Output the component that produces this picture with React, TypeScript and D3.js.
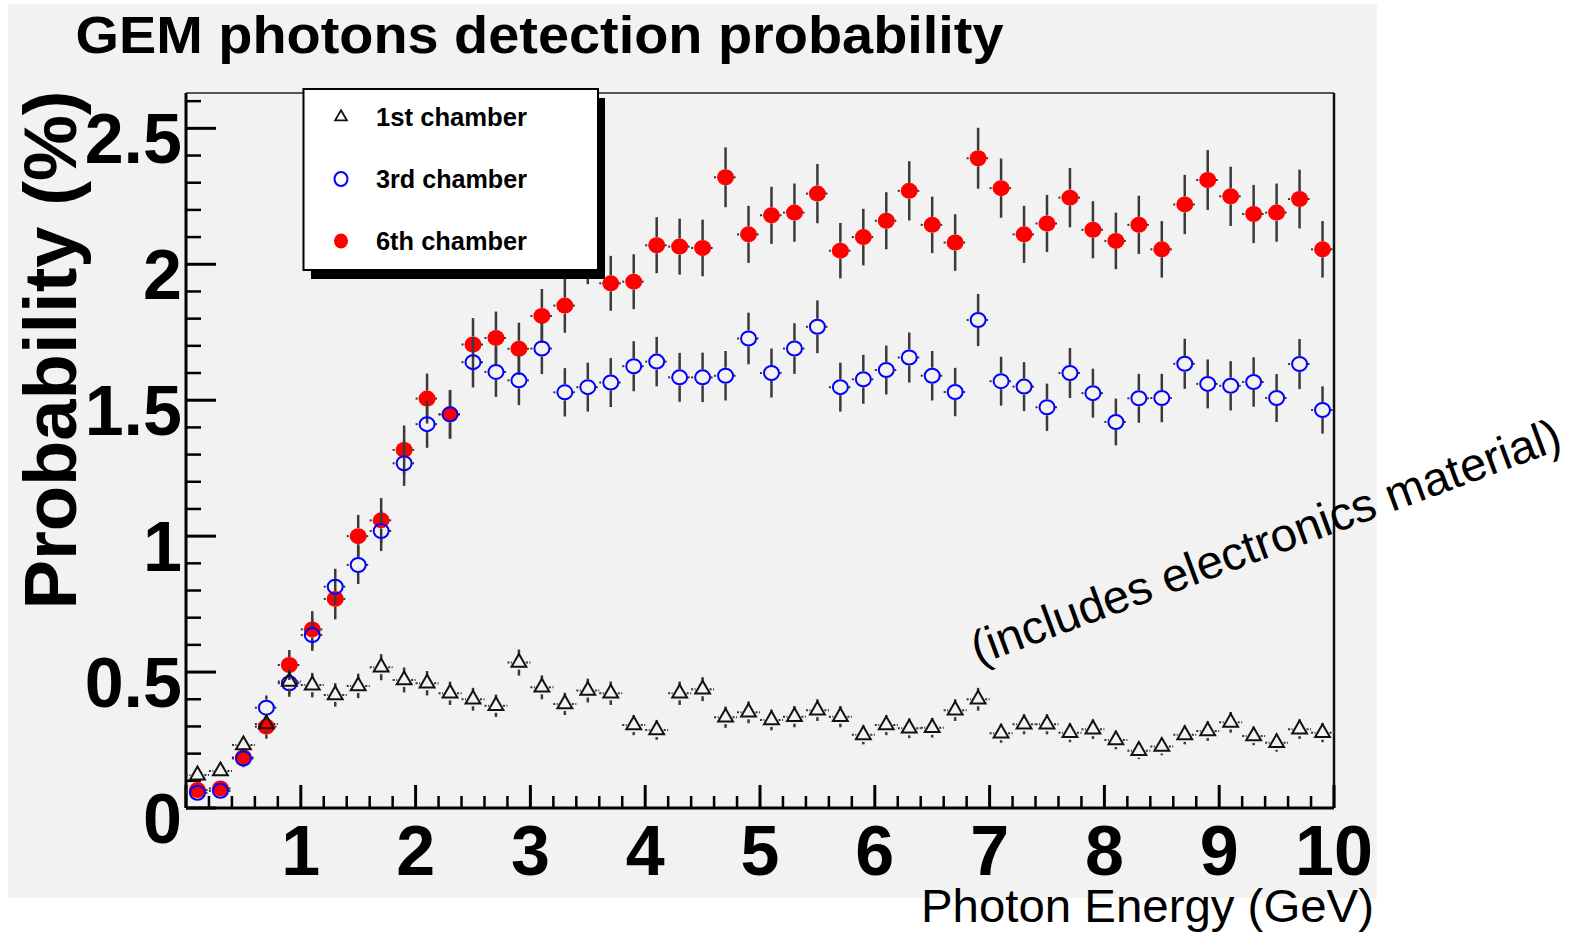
import React from "react";
import * as d3 from "d3";

// bin centres (GeV)
const energy = [
  0.1, 0.3, 0.5, 0.7, 0.9, 1.1, 1.3, 1.5, 1.7, 1.9,
  2.1, 2.3, 2.5, 2.7, 2.9, 3.1, 3.3, 3.5, 3.7, 3.9,
  4.1, 4.3, 4.5, 4.7, 4.9, 5.1, 5.3, 5.5, 5.7, 5.9,
  6.1, 6.3, 6.5, 6.7, 6.9, 7.1, 7.3, 7.5, 7.7, 7.9,
  8.1, 8.3, 8.5, 8.7, 8.9, 9.1, 9.3, 9.5, 9.7, 9.9,
];
const binHalfWidth = 0.1;

// 1st chamber (open triangles)
const chamber1 = [
  0.121, 0.136, 0.232, 0.309, 0.465, 0.452, 0.416, 0.449, 0.518, 0.471,
  0.459, 0.422, 0.4, 0.376, 0.535, 0.444, 0.383, 0.432, 0.422, 0.305,
  0.287, 0.422, 0.437, 0.334, 0.352, 0.324, 0.336, 0.36, 0.336, 0.269,
  0.305, 0.293, 0.295, 0.36, 0.4, 0.275, 0.308, 0.308, 0.277, 0.29,
  0.25, 0.211, 0.226, 0.269, 0.283, 0.315, 0.265, 0.24, 0.29, 0.277,
];
const chamber1Err = [
  0.02, 0.022, 0.03, 0.035, 0.045, 0.045, 0.043, 0.045, 0.048, 0.046,
  0.045, 0.043, 0.042, 0.041, 0.048, 0.044, 0.041, 0.044, 0.043, 0.037,
  0.036, 0.043, 0.044, 0.039, 0.04, 0.038, 0.039, 0.04, 0.039, 0.035,
  0.037, 0.036, 0.036, 0.04, 0.042, 0.035, 0.037, 0.037, 0.035, 0.036,
  0.034, 0.031, 0.032, 0.035, 0.036, 0.038, 0.034, 0.033, 0.036, 0.035,
];

// 3rd chamber (open blue circles)
const chamber3 = [
  0.056, 0.063, 0.182, 0.369, 0.459, 0.636, 0.814, 0.894, 1.019, 1.268,
  1.412, 1.448, 1.64, 1.604, 1.573, 1.69, 1.529, 1.548, 1.565, 1.625,
  1.642, 1.584, 1.584, 1.59, 1.727, 1.6, 1.69, 1.77, 1.548, 1.577,
  1.611, 1.657, 1.59, 1.53, 1.795, 1.57, 1.55, 1.474, 1.6, 1.526,
  1.42, 1.507, 1.508, 1.634, 1.56, 1.553, 1.567, 1.508, 1.633, 1.464,
];
const chamber3Err = [
  0.018, 0.019, 0.032, 0.045, 0.05, 0.058, 0.066, 0.07, 0.074, 0.083,
  0.087, 0.088, 0.093, 0.092, 0.091, 0.094, 0.089, 0.09, 0.09, 0.092,
  0.091, 0.09, 0.091, 0.091, 0.095, 0.09, 0.093, 0.097, 0.09, 0.09,
  0.09, 0.092, 0.091, 0.089, 0.096, 0.09, 0.09, 0.087, 0.092, 0.09,
  0.086, 0.09, 0.089, 0.092, 0.09, 0.091, 0.091, 0.088, 0.092, 0.087,
];

// 6th chamber (filled red circles)
const chamber6 = [
  0.066, 0.072, 0.186, 0.299, 0.526, 0.657, 0.769, 1.0, 1.058, 1.317,
  1.506, 1.448, 1.705, 1.729, 1.689, 1.81, 1.848, 2.03, 1.93, 1.936,
  2.07, 2.065, 2.06, 2.32, 2.11, 2.18, 2.19, 2.26, 2.05, 2.1,
  2.16, 2.27, 2.145, 2.08, 2.39, 2.28, 2.11, 2.15, 2.245, 2.127,
  2.086, 2.145, 2.055, 2.22, 2.31, 2.25, 2.185, 2.19, 2.24, 2.055,
];
const chamber6Err = [
  0.02, 0.021, 0.034, 0.044, 0.055, 0.067, 0.075, 0.078, 0.082, 0.09,
  0.092, 0.09, 0.097, 0.097, 0.096, 0.099, 0.1, 0.103, 0.101, 0.101,
  0.103, 0.103, 0.104, 0.11, 0.105, 0.105, 0.107, 0.109, 0.102, 0.104,
  0.105, 0.109, 0.104, 0.104, 0.112, 0.109, 0.105, 0.105, 0.109, 0.105,
  0.104, 0.107, 0.104, 0.109, 0.11, 0.109, 0.107, 0.107, 0.108, 0.104,
];

const legendLabels = ["1st chamber", "3rd chamber", "6th chamber"];
const xTickLabels = ["1", "2", "3", "4", "5", "6", "7", "8", "9", "10"];
const yTickLabels = ["0", "0.5", "1", "1.5", "2", "2.5"];

const W = 1579;
const H = 933;
const FONT = "'Liberation Sans', Arial, Helvetica, sans-serif";

export default function App() {
  const x = d3.scaleLinear().domain([0, 10]).range([186, 1334]);
  const y = d3.scaleLinear().domain([0, 2.63]).range([808, 93]);

  const majorX = d3.range(0, 11);
  const minorX = d3.range(0, 50).map((i) => i * 0.2).filter((v) => Math.abs(v - Math.round(v)) > 1e-6);
  const majorY = d3.range(0, 6).map((i) => i * 0.5);
  const minorY = d3.range(0, 27).map((i) => i * 0.1).filter((v) => Math.abs(v * 2 - Math.round(v * 2)) > 1e-6);

  const tri = d3.symbol(d3.symbolTriangle, 95)() as string;

  // error bars with a gap where the marker sits
  const errorBars = (vals: number[], errs: number[], gap: number, key: string) =>
    vals.map((v, i) => {
      const cx = x(energy[i]);
      const cy = y(v);
      const xl = x(energy[i] - binHalfWidth);
      const xr = x(energy[i] + binHalfWidth);
      const top = y(v + errs[i]);
      const bot = y(Math.max(0, v - errs[i]));
      return (
        <g key={key + i}>
          {top < cy - gap && <line x1={cx} x2={cx} y1={top} y2={cy - gap} stroke="#3a3a3a" strokeWidth={2.5} />}
          {bot > cy + gap && <line x1={cx} x2={cx} y1={cy + gap} y2={bot} stroke="#3a3a3a" strokeWidth={2.5} />}
          <line x1={xl} x2={cx - gap} y1={cy} y2={cy} stroke="#333" strokeWidth={2} strokeDasharray="2,1.5" />
          <line x1={cx + gap} x2={xr} y1={cy} y2={cy} stroke="#333" strokeWidth={2} strokeDasharray="2,1.5" />
        </g>
      );
    });

  return (
    <svg
      width={W}
      height={H}
      style={{ position: "absolute", left: 0, top: 0, display: "block", background: "#fff" }}
      fontFamily={FONT}
    >
      {/* pad background */}
      <rect x={8} y={4} width={1369} height={894} fill="#f2f2f2" />

      {/* title */}
      <text x={75.5} y={53} fontSize={51} fontWeight="bold" textLength={928} lengthAdjust="spacingAndGlyphs">
        GEM photons detection probability
      </text>

      {/* frame top & right */}
      <line x1={x(0)} x2={x(10)} y1={y(2.63)} y2={y(2.63)} stroke="#555" strokeWidth={2} />
      <line x1={x(10)} x2={x(10)} y1={y(2.63)} y2={y(0)} stroke="#111" strokeWidth={2.5} />

      {/* x axis */}
      <line x1={x(0)} x2={x(10)} y1={y(0)} y2={y(0)} stroke="#000" strokeWidth={3} />
      {majorX.map((v) => (
        <line key={"mx" + v} x1={x(v)} x2={x(v)} y1={y(0)} y2={y(0) - 23} stroke="#000" strokeWidth={3} />
      ))}
      {minorX.map((v) => (
        <line key={"nx" + v} x1={x(v)} x2={x(v)} y1={y(0)} y2={y(0) - 12} stroke="#000" strokeWidth={2.5} />
      ))}
      {xTickLabels.map((t) => (
        <text key={"lx" + t} x={x(+t)} y={875} fontSize={70} fontWeight="bold" textAnchor="middle">
          {t}
        </text>
      ))}
      <text x={1374} y={922} fontSize={46} textAnchor="end" textLength={453} lengthAdjust="spacingAndGlyphs">
        Photon Energy (GeV)
      </text>

      {/* y axis */}
      <line x1={x(0)} x2={x(0)} y1={y(0)} y2={y(2.63)} stroke="#000" strokeWidth={3} />
      {majorY.map((v) => (
        <line key={"my" + v} x1={x(0)} x2={x(0) + 30} y1={y(v)} y2={y(v)} stroke="#000" strokeWidth={3} />
      ))}
      {minorY.map((v) => (
        <line key={"ny" + v} x1={x(0)} x2={x(0) + 15} y1={y(v)} y2={y(v)} stroke="#000" strokeWidth={2.5} />
      ))}
      {yTickLabels.map((t) => (
        <text key={"ly" + t} x={182} y={y(+t) + 35} fontSize={70} fontWeight="bold" textAnchor="end">
          {t}
        </text>
      ))}
      <text
        transform="translate(76,350) rotate(-90)"
        fontSize={74}
        fontWeight="bold"
        textAnchor="middle"
        textLength={519}
        lengthAdjust="spacingAndGlyphs"
      >
        Probability (%)
      </text>

      {/* data: 6th chamber, 3rd chamber, 1st chamber */}
      {errorBars(chamber6, chamber6Err, 8, "e6")}
      {chamber6.map((v, i) => (
        <ellipse key={"p6" + i} cx={x(energy[i])} cy={y(v)} rx={8.5} ry={8} fill="#ff0000" />
      ))}
      {errorBars(chamber3, chamber3Err, 8, "e3")}
      {chamber3.map((v, i) => (
        <ellipse key={"p3" + i} cx={x(energy[i])} cy={y(v)} rx={7.5} ry={7} fill="none" stroke="#0000ff" strokeWidth={2} />
      ))}
      {errorBars(chamber1, chamber1Err, 7, "e1")}
      {chamber1.map((v, i) => (
        <path
          key={"p1" + i}
          d={tri}
          transform={`translate(${x(energy[i])},${y(v)})`}
          fill="none"
          stroke="#111"
          strokeWidth={2}
        />
      ))}

      {/* legend */}
      <rect x={311} y={98} width={294} height={181} fill="#000" />
      <rect x={303.5} y={89} width={294.5} height={181} fill="#fff" stroke="#000" strokeWidth={2} />
      {legendLabels.map((label, i) => {
        const cy = 117 + i * 62;
        return (
          <g key={label}>
            {i === 0 && <path d={d3.symbol(d3.symbolTriangle, 60)() as string} transform={`translate(341,${cy})`} fill="none" stroke="#111" strokeWidth={1.8} />}
            {i === 1 && <ellipse cx={341} cy={cy} rx={6.5} ry={7} fill="none" stroke="#0000ff" strokeWidth={2} />}
            {i === 2 && <ellipse cx={341} cy={cy} rx={7} ry={7.5} fill="#ff0000" />}
            <text x={376} y={cy + 9} fontSize={25} fontWeight="bold" textLength={151} lengthAdjust="spacingAndGlyphs">
              {label}
            </text>
          </g>
        );
      })}

      {/* annotation */}
      <text
        transform="translate(978,665) rotate(-20.3)"
        fontSize={47}
        textLength={625}
        lengthAdjust="spacingAndGlyphs"
      >
        (includes electronics material)
      </text>
    </svg>
  );
}
